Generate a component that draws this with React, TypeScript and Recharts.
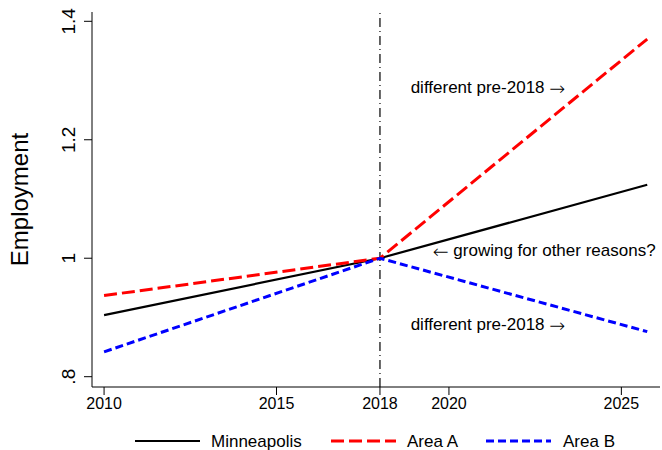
import React from "react";
import { LineChart, Line, XAxis, YAxis, ReferenceLine, ReferenceDot, Legend } from "recharts";

const years = [2010, 2018, 2025.75];
const minneapolis = [0.904, 1, 1.124];
const areaA = [0.937, 1, 1.37];
const areaB = [0.842, 1, 0.876];

const xTicks = [2010, 2015, 2018, 2020, 2025];
const yTicks = [0.8, 1, 1.2, 1.4];
const yTickLabels = [".8", "1", "1.2", "1.4"];

// annotation text; arrowFirst puts the arrow before the words
const notes = [
  { x: 2018.89, y: 1.2875, text: "different pre-2018 ", arrow: "\u2192", arrowFirst: false },
  { x: 2019.53, y: 1.0123, text: " growing for other reasons?", arrow: "\u2190", arrowFirst: true },
  { x: 2018.89, y: 0.8874, text: "different pre-2018 ", arrow: "\u2192", arrowFirst: false },
];

const data = years.map((year, i) => ({
  year,
  minneapolis: minneapolis[i],
  areaA: areaA[i],
  areaB: areaB[i],
}));

const font = "'Liberation Sans', Arial, sans-serif";
const arrowFont = "'DejaVu Sans', sans-serif";

const series = [
  { key: "minneapolis", name: "Minneapolis", color: "#000000", dash: undefined, width: 2.2 },
  { key: "areaA", name: "Area A", color: "#ff0000", dash: "13 5", width: 3 },
  { key: "areaB", name: "Area B", color: "#0000ff", dash: "8 4", width: 3 },
];

const legendPos = [
  { line: 135, text: 211 },
  { line: 331, text: 407 },
  { line: 486, text: 563 },
];

function YTick({ x, y, payload }: any) {
  const i = yTicks.indexOf(payload.value);
  const bx = x - 7;
  return (
    <text
      x={bx}
      y={y}
      textAnchor="middle"
      transform={`rotate(-90, ${bx}, ${y})`}
      fontSize={19}
      fontFamily={font}
      fill="#000"
    >
      {i >= 0 ? yTickLabels[i] : payload.value}
    </text>
  );
}

function YLabel({ viewBox }: any) {
  const cy = viewBox ? viewBox.y + viewBox.height / 2 : 200;
  return (
    <text
      x={28}
      y={cy}
      textAnchor="middle"
      transform={`rotate(-90, 28, ${cy})`}
      fontSize={24}
      fontFamily={font}
      fill="#000"
    >
      Employment
    </text>
  );
}

function LegendBox() {
  return (
    <svg width={662} height={33} style={{ display: "block" }}>
      {series.map((s, i) => (
        <g key={s.key}>
          <line
            x1={legendPos[i].line}
            x2={legendPos[i].line + 65}
            y1={24}
            y2={24}
            stroke={s.color}
            strokeWidth={s.width}
            strokeDasharray={s.dash}
          />
          <text
            x={legendPos[i].text}
            y={24}
            dominantBaseline="central"
            fontSize={17}
            fontFamily={font}
            fill="#000"
          >
            {s.name}
          </text>
        </g>
      ))}
    </svg>
  );
}

function Note({ cx, cy, note }: any) {
  const arrow = (
    <tspan fontFamily={arrowFont} fontSize={19} fontWeight={200}>
      {note.arrow}
    </tspan>
  );
  return (
    <text x={cx} y={cy} dominantBaseline="central" fontSize={17} fontFamily={font} fill="#000">
      {note.arrowFirst ? arrow : null}
      {note.text}
      {note.arrowFirst ? null : arrow}
    </text>
  );
}

export default function App() {
  return (
    <div style={{ position: "absolute", left: 0, top: 0, background: "#fff" }}>
      <LineChart width={662} height={450} data={data} margin={{ top: 12, right: 2, left: 0, bottom: 0 }}>
        <XAxis
          dataKey="year"
          type="number"
          domain={[2009.65, 2026.12]}
          ticks={xTicks}
          allowDataOverflow
          height={30}
          tickSize={8}
          tickMargin={3}
          stroke="#000"
          tick={{ fill: "#000", fontSize: 16, fontFamily: font }}
        />
        <YAxis
          type="number"
          domain={[0.7826, 1.4157]}
          ticks={yTicks}
          allowDataOverflow
          width={92}
          tickSize={8}
          tickMargin={2}
          stroke="#000"
          tick={<YTick />}
          label={<YLabel />}
        />
        <ReferenceLine x={2018} stroke="#000" strokeWidth={1.2} strokeDasharray="9 4 1 4" />
        {series.map((s) => (
          <Line
            key={s.key}
            type="linear"
            dataKey={s.key}
            name={s.name}
            stroke={s.color}
            strokeWidth={s.width}
            strokeDasharray={s.dash}
            dot={false}
            activeDot={false}
            isAnimationActive={false}
          />
        ))}
        {notes.map((n, i) => (
          <ReferenceDot
            key={i}
            x={n.x}
            y={n.y}
            r={0}
            shape={(p: any) => <Note cx={p.cx} cy={p.cy} note={n} />}
          />
        ))}
        <Legend
          verticalAlign="bottom"
          height={33}
          wrapperStyle={{ left: 0, bottom: 0, width: 662 }}
          content={() => <LegendBox />}
        />
      </LineChart>
    </div>
  );
}
